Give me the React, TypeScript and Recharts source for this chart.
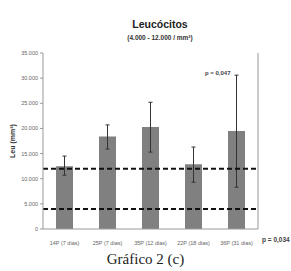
import { ComposedChart, Bar, XAxis, YAxis, ErrorBar, ReferenceLine } from 'recharts'

const categories = ['14P (7 dias)', '25P (7 dias)', '35P (12 dias)', '22P (18 dias)', '36P (31 dias)']
const leuMean = [12500, 18400, 20300, 12900, 19500]
const leuMin = [10700, 15900, 15300, 9300, 8300]
const leuMax = [14500, 20700, 25200, 16300, 30600]
const yTicks = [0, 5000, 10000, 15000, 20000, 25000, 30000, 35000]
const refLimits = [4000, 12000]

const data = categories.map((name, i) => ({
  name,
  leu: leuMean[i],
  err: [leuMean[i] - leuMin[i], leuMax[i] - leuMean[i]],
}))

function fmt(n: number) {
  return n === 0 ? '0' : n.toLocaleString('de-DE')
}

const tickStyle = { fontSize: 5.5, fill: '#666', fontFamily: 'Arial, Liberation Sans, sans-serif' }

export default function App() {
  return (
    <div style={{ position: 'absolute', left: 0, top: 0, width: 291, height: 271, background: '#fff', overflow: 'hidden', fontFamily: 'Arial, "Liberation Sans", sans-serif' }}>
      <div style={{ position: 'absolute', left: 110, width: 100, top: 18, textAlign: 'center', fontSize: 10.5, fontWeight: 700, color: '#222' }}>
        Leucócitos
      </div>
      <div style={{ position: 'absolute', left: 100, width: 120, top: 34, textAlign: 'center', fontSize: 6.5, fontWeight: 700, color: '#333' }}>
        (4.000 - 12.000 / mm³)
      </div>
      <div
        style={{
          position: 'absolute',
          left: 12,
          top: 141,
          transform: 'translate(-50%, -50%) rotate(-90deg)',
          fontSize: 7,
          fontWeight: 700,
          color: '#333',
          whiteSpace: 'nowrap',
        }}
      >
        Leu (mm³)
      </div>
      <div style={{ position: 'absolute', left: 205, top: 70, fontSize: 6, fontWeight: 700, color: '#444', whiteSpace: 'nowrap' }}>p = 0,047</div>
      <div style={{ position: 'absolute', left: 262, top: 236, fontSize: 6.5, fontWeight: 700, color: '#444', whiteSpace: 'nowrap' }}>p = 0,034</div>
      <div style={{ position: 'absolute', left: 0, width: 291, top: 251, textAlign: 'center', fontSize: 15, color: '#222', fontFamily: '"Liberation Serif", "DejaVu Serif", serif' }}>
        Gráfico 2 (c)
      </div>
      <div style={{ position: 'absolute', left: 0, top: 0 }}>
        <ComposedChart width={291} height={271} data={data} margin={{ top: 53, right: 0, bottom: 0, left: 0 }}>
          <XAxis
            dataKey="name"
            height={42}
            tick={tickStyle}
            tickLine={false}
            axisLine={{ stroke: '#999' }}
            interval={0}
            tickMargin={6}
          />
          <YAxis
            yAxisId="left"
            width={43}
            domain={[0, 35000]}
            ticks={yTicks}
            tickFormatter={fmt}
            tick={tickStyle}
            tickSize={3}
            tickLine={{ stroke: '#999' }}
            axisLine={{ stroke: '#999' }}
          />
          <YAxis
            yAxisId="right"
            orientation="right"
            width={33}
            domain={[0, 35000]}
            ticks={yTicks}
            tickFormatter={fmt}
            tick={tickStyle}
            tickSize={3}
            tickLine={{ stroke: '#999' }}
            axisLine={{ stroke: '#999' }}
          />
          <Bar yAxisId="left" dataKey="leu" fill="#808080" barSize={17} isAnimationActive={false}>
            <ErrorBar dataKey="err" width={2} stroke="#333" strokeWidth={1} />
          </Bar>
          {refLimits.map((v) => (
            <ReferenceLine key={v} yAxisId="left" y={v} stroke="#111" strokeWidth={2} strokeDasharray="5 3" />
          ))}
        </ComposedChart>
      </div>
    </div>
  )
}
